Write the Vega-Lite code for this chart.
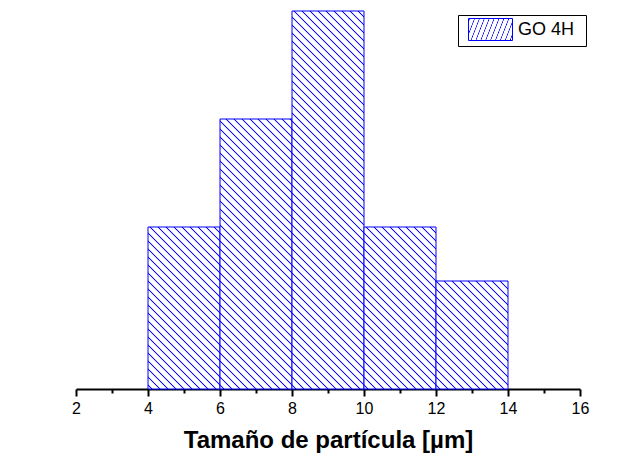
{
  "$schema": "https://vega.github.io/schema/vega-lite/v6.json",
  "width": 504,
  "height": 378,
  "autosize": {"type": "none"},
  "padding": {"left": 76, "top": 11, "right": 38, "bottom": 81},
  "background": "white",
  "config": {"view": {"stroke": null}, "font": "Liberation Sans"},
  "data": {"values": [
    {"start": 4, "end": 6, "count": 3, "serie": "GO 4H"},
    {"start": 6, "end": 8, "count": 5, "serie": "GO 4H"},
    {"start": 8, "end": 10, "count": 7, "serie": "GO 4H"},
    {"start": 10, "end": 12, "count": 3, "serie": "GO 4H"},
    {"start": 12, "end": 14, "count": 2, "serie": "GO 4H"}
  ]},
  "mark": {"type": "bar", "strokeWidth": 1, "fillOpacity": 1},
  "encoding": {
    "x": {"field": "start", "type": "quantitative",
      "scale": {"domain": [2, 16], "nice": false, "zero": false},
      "axis": {"values": [2,3,4,5,6,7,8,9,10,11,12,13,14,15,16],
        "labelExpr": "datum.value % 2 === 0 ? datum.label : ''",
        "labelOverlap": false, "labelFlush": false,
        "grid": false,
        "domainColor": "black", "domainWidth": 2,
        "tickColor": "black", "tickWidth": 2,
        "tickSize": {"condition": {"test": "datum.value % 2 === 1", "value": 4}, "value": 7},
        "labelFont": "Liberation Sans", "labelFontSize": 16, "labelColor": "black", "labelPadding": 4,
        "title": "Tamaño de partícula [µm]",
        "titleFont": "Liberation Sans", "titleFontSize": 24, "titleFontWeight": "bold", "titleColor": "black", "titlePadding": 12}},
    "x2": {"field": "end"},
    "y": {"field": "count", "type": "quantitative", "scale": {"domain": [0, 7], "nice": false}, "axis": null},
    "y2": {"datum": 0},
    "stroke": {"field": "serie", "type": "nominal", "scale": {"range": ["#0000ff"]},
      "legend": {"title": "\u00a0", "titleOrient": "right", "titlePadding": 9, "titleFontSize": 10, "titleColor": "white",
        "orient": "none", "legendX": 382, "legendY": 4,
        "symbolType": "M-2,-1H2V1H-2Z", "symbolSize": 484, "symbolStrokeWidth": 1, "symbolOffset": 18,
        "labelFont": "Liberation Sans", "labelFontSize": 18, "labelColor": "black", "labelOffset": 16,
        "padding": 3, "strokeColor": "black", "fillColor": "white", "cornerRadius": 0,
        "encode": {"symbols": {"update": {"stroke": {"value": "#ff0000"}, "strokeWidth": {"value": 1},
          "fill": {"value": {"gradient": "linear", "x1": 0, "y1": 1, "x2": 10.3636, "y2": -4.1818, "stops": [{"offset":0.0061,"color":"#fff"},{"offset":0.0088,"color":"#00f"},{"offset":0.0114,"color":"#fff"},{"offset":0.0237,"color":"#fff"},{"offset":0.0263,"color":"#00f"},{"offset":0.0289,"color":"#fff"},{"offset":0.0412,"color":"#fff"},{"offset":0.0439,"color":"#00f"},{"offset":0.0465,"color":"#fff"},{"offset":0.0588,"color":"#fff"},{"offset":0.0614,"color":"#00f"},{"offset":0.064,"color":"#fff"},{"offset":0.0763,"color":"#fff"},{"offset":0.0789,"color":"#00f"},{"offset":0.0816,"color":"#fff"},{"offset":0.0939,"color":"#fff"},{"offset":0.0965,"color":"#00f"},{"offset":0.0991,"color":"#fff"},{"offset":0.1114,"color":"#fff"},{"offset":0.114,"color":"#00f"},{"offset":0.1167,"color":"#fff"},{"offset":0.1289,"color":"#fff"},{"offset":0.1316,"color":"#00f"},{"offset":0.1342,"color":"#fff"},{"offset":0.1465,"color":"#fff"},{"offset":0.1491,"color":"#00f"},{"offset":0.1518,"color":"#fff"},{"offset":0.164,"color":"#fff"},{"offset":0.1667,"color":"#00f"},{"offset":0.1693,"color":"#fff"}]}}}}}
      }},
    "fill": {
      "condition": [
        {"test": "datum.count === 7", "value": {"gradient": "linear", "x1": 0, "y1": 1, "x2": 0.2217, "y2": -0.1641, "stops": [{"offset":0.0061,"color":"#fff"},{"offset":0.0088,"color":"#00f"},{"offset":0.0114,"color":"#fff"},{"offset":0.0237,"color":"#fff"},{"offset":0.0263,"color":"#00f"},{"offset":0.0289,"color":"#fff"},{"offset":0.0412,"color":"#fff"},{"offset":0.0439,"color":"#00f"},{"offset":0.0465,"color":"#fff"},{"offset":0.0588,"color":"#fff"},{"offset":0.0614,"color":"#00f"},{"offset":0.064,"color":"#fff"},{"offset":0.0763,"color":"#fff"},{"offset":0.0789,"color":"#00f"},{"offset":0.0816,"color":"#fff"},{"offset":0.0939,"color":"#fff"},{"offset":0.0965,"color":"#00f"},{"offset":0.0991,"color":"#fff"},{"offset":0.1114,"color":"#fff"},{"offset":0.114,"color":"#00f"},{"offset":0.1167,"color":"#fff"},{"offset":0.1289,"color":"#fff"},{"offset":0.1316,"color":"#00f"},{"offset":0.1342,"color":"#fff"},{"offset":0.1465,"color":"#fff"},{"offset":0.1491,"color":"#00f"},{"offset":0.1518,"color":"#fff"},{"offset":0.164,"color":"#fff"},{"offset":0.1667,"color":"#00f"},{"offset":0.1693,"color":"#fff"},{"offset":0.1816,"color":"#fff"},{"offset":0.1842,"color":"#00f"},{"offset":0.1868,"color":"#fff"},{"offset":0.1991,"color":"#fff"},{"offset":0.2018,"color":"#00f"},{"offset":0.2044,"color":"#fff"},{"offset":0.2167,"color":"#fff"},{"offset":0.2193,"color":"#00f"},{"offset":0.2219,"color":"#fff"},{"offset":0.2342,"color":"#fff"},{"offset":0.2368,"color":"#00f"},{"offset":0.2395,"color":"#fff"},{"offset":0.2518,"color":"#fff"},{"offset":0.2544,"color":"#00f"},{"offset":0.257,"color":"#fff"},{"offset":0.2693,"color":"#fff"},{"offset":0.2719,"color":"#00f"},{"offset":0.2746,"color":"#fff"},{"offset":0.2868,"color":"#fff"},{"offset":0.2895,"color":"#00f"},{"offset":0.2921,"color":"#fff"},{"offset":0.3044,"color":"#fff"},{"offset":0.307,"color":"#00f"},{"offset":0.3096,"color":"#fff"},{"offset":0.3219,"color":"#fff"},{"offset":0.3246,"color":"#00f"},{"offset":0.3272,"color":"#fff"},{"offset":0.3395,"color":"#fff"},{"offset":0.3421,"color":"#00f"},{"offset":0.3447,"color":"#fff"},{"offset":0.357,"color":"#fff"},{"offset":0.3596,"color":"#00f"},{"offset":0.3623,"color":"#fff"},{"offset":0.3746,"color":"#fff"},{"offset":0.3772,"color":"#00f"},{"offset":0.3798,"color":"#fff"},{"offset":0.3921,"color":"#fff"},{"offset":0.3947,"color":"#00f"},{"offset":0.3974,"color":"#fff"},{"offset":0.4096,"color":"#fff"},{"offset":0.4123,"color":"#00f"},{"offset":0.4149,"color":"#fff"},{"offset":0.4272,"color":"#fff"},{"offset":0.4298,"color":"#00f"},{"offset":0.4325,"color":"#fff"},{"offset":0.4447,"color":"#fff"},{"offset":0.4474,"color":"#00f"},{"offset":0.45,"color":"#fff"},{"offset":0.4623,"color":"#fff"},{"offset":0.4649,"color":"#00f"},{"offset":0.4675,"color":"#fff"},{"offset":0.4798,"color":"#fff"},{"offset":0.4825,"color":"#00f"},{"offset":0.4851,"color":"#fff"},{"offset":0.4974,"color":"#fff"},{"offset":0.5,"color":"#00f"},{"offset":0.5026,"color":"#fff"},{"offset":0.5149,"color":"#fff"},{"offset":0.5175,"color":"#00f"},{"offset":0.5202,"color":"#fff"},{"offset":0.5325,"color":"#fff"},{"offset":0.5351,"color":"#00f"},{"offset":0.5377,"color":"#fff"},{"offset":0.55,"color":"#fff"},{"offset":0.5526,"color":"#00f"},{"offset":0.5553,"color":"#fff"},{"offset":0.5675,"color":"#fff"},{"offset":0.5702,"color":"#00f"},{"offset":0.5728,"color":"#fff"},{"offset":0.5851,"color":"#fff"},{"offset":0.5877,"color":"#00f"},{"offset":0.5904,"color":"#fff"},{"offset":0.6026,"color":"#fff"},{"offset":0.6053,"color":"#00f"},{"offset":0.6079,"color":"#fff"},{"offset":0.6202,"color":"#fff"},{"offset":0.6228,"color":"#00f"},{"offset":0.6254,"color":"#fff"},{"offset":0.6377,"color":"#fff"},{"offset":0.6404,"color":"#00f"},{"offset":0.643,"color":"#fff"},{"offset":0.6553,"color":"#fff"},{"offset":0.6579,"color":"#00f"},{"offset":0.6605,"color":"#fff"},{"offset":0.6728,"color":"#fff"},{"offset":0.6754,"color":"#00f"},{"offset":0.6781,"color":"#fff"},{"offset":0.6904,"color":"#fff"},{"offset":0.693,"color":"#00f"},{"offset":0.6956,"color":"#fff"},{"offset":0.7079,"color":"#fff"},{"offset":0.7105,"color":"#00f"},{"offset":0.7132,"color":"#fff"},{"offset":0.7254,"color":"#fff"},{"offset":0.7281,"color":"#00f"},{"offset":0.7307,"color":"#fff"},{"offset":0.743,"color":"#fff"},{"offset":0.7456,"color":"#00f"},{"offset":0.7482,"color":"#fff"},{"offset":0.7605,"color":"#fff"},{"offset":0.7632,"color":"#00f"},{"offset":0.7658,"color":"#fff"},{"offset":0.7781,"color":"#fff"},{"offset":0.7807,"color":"#00f"},{"offset":0.7833,"color":"#fff"},{"offset":0.7956,"color":"#fff"},{"offset":0.7982,"color":"#00f"},{"offset":0.8009,"color":"#fff"},{"offset":0.8132,"color":"#fff"},{"offset":0.8158,"color":"#00f"},{"offset":0.8184,"color":"#fff"},{"offset":0.8307,"color":"#fff"},{"offset":0.8333,"color":"#00f"},{"offset":0.836,"color":"#fff"},{"offset":0.8482,"color":"#fff"},{"offset":0.8509,"color":"#00f"},{"offset":0.8535,"color":"#fff"},{"offset":0.8658,"color":"#fff"},{"offset":0.8684,"color":"#00f"},{"offset":0.8711,"color":"#fff"},{"offset":0.8833,"color":"#fff"},{"offset":0.886,"color":"#00f"},{"offset":0.8886,"color":"#fff"},{"offset":0.9009,"color":"#fff"},{"offset":0.9035,"color":"#00f"},{"offset":0.9061,"color":"#fff"},{"offset":0.9184,"color":"#fff"},{"offset":0.9211,"color":"#00f"},{"offset":0.9237,"color":"#fff"},{"offset":0.936,"color":"#fff"},{"offset":0.9386,"color":"#00f"},{"offset":0.9412,"color":"#fff"},{"offset":0.9535,"color":"#fff"},{"offset":0.9561,"color":"#00f"},{"offset":0.9588,"color":"#fff"},{"offset":0.9711,"color":"#fff"},{"offset":0.9737,"color":"#00f"},{"offset":0.9763,"color":"#fff"},{"offset":0.9886,"color":"#fff"},{"offset":0.9912,"color":"#00f"},{"offset":0.9939,"color":"#fff"}]}},
        {"test": "datum.count === 5", "value": {"gradient": "linear", "x1": 0, "y1": 1, "x2": 0.4205, "y2": -0.5768, "stops": [{"offset":0.0061,"color":"#fff"},{"offset":0.0088,"color":"#00f"},{"offset":0.0114,"color":"#fff"},{"offset":0.0237,"color":"#fff"},{"offset":0.0263,"color":"#00f"},{"offset":0.0289,"color":"#fff"},{"offset":0.0412,"color":"#fff"},{"offset":0.0439,"color":"#00f"},{"offset":0.0465,"color":"#fff"},{"offset":0.0588,"color":"#fff"},{"offset":0.0614,"color":"#00f"},{"offset":0.064,"color":"#fff"},{"offset":0.0763,"color":"#fff"},{"offset":0.0789,"color":"#00f"},{"offset":0.0816,"color":"#fff"},{"offset":0.0939,"color":"#fff"},{"offset":0.0965,"color":"#00f"},{"offset":0.0991,"color":"#fff"},{"offset":0.1114,"color":"#fff"},{"offset":0.114,"color":"#00f"},{"offset":0.1167,"color":"#fff"},{"offset":0.1289,"color":"#fff"},{"offset":0.1316,"color":"#00f"},{"offset":0.1342,"color":"#fff"},{"offset":0.1465,"color":"#fff"},{"offset":0.1491,"color":"#00f"},{"offset":0.1518,"color":"#fff"},{"offset":0.164,"color":"#fff"},{"offset":0.1667,"color":"#00f"},{"offset":0.1693,"color":"#fff"},{"offset":0.1816,"color":"#fff"},{"offset":0.1842,"color":"#00f"},{"offset":0.1868,"color":"#fff"},{"offset":0.1991,"color":"#fff"},{"offset":0.2018,"color":"#00f"},{"offset":0.2044,"color":"#fff"},{"offset":0.2167,"color":"#fff"},{"offset":0.2193,"color":"#00f"},{"offset":0.2219,"color":"#fff"},{"offset":0.2342,"color":"#fff"},{"offset":0.2368,"color":"#00f"},{"offset":0.2395,"color":"#fff"},{"offset":0.2518,"color":"#fff"},{"offset":0.2544,"color":"#00f"},{"offset":0.257,"color":"#fff"},{"offset":0.2693,"color":"#fff"},{"offset":0.2719,"color":"#00f"},{"offset":0.2746,"color":"#fff"},{"offset":0.2868,"color":"#fff"},{"offset":0.2895,"color":"#00f"},{"offset":0.2921,"color":"#fff"},{"offset":0.3044,"color":"#fff"},{"offset":0.307,"color":"#00f"},{"offset":0.3096,"color":"#fff"},{"offset":0.3219,"color":"#fff"},{"offset":0.3246,"color":"#00f"},{"offset":0.3272,"color":"#fff"},{"offset":0.3395,"color":"#fff"},{"offset":0.3421,"color":"#00f"},{"offset":0.3447,"color":"#fff"},{"offset":0.357,"color":"#fff"},{"offset":0.3596,"color":"#00f"},{"offset":0.3623,"color":"#fff"},{"offset":0.3746,"color":"#fff"},{"offset":0.3772,"color":"#00f"},{"offset":0.3798,"color":"#fff"},{"offset":0.3921,"color":"#fff"},{"offset":0.3947,"color":"#00f"},{"offset":0.3974,"color":"#fff"},{"offset":0.4096,"color":"#fff"},{"offset":0.4123,"color":"#00f"},{"offset":0.4149,"color":"#fff"},{"offset":0.4272,"color":"#fff"},{"offset":0.4298,"color":"#00f"},{"offset":0.4325,"color":"#fff"},{"offset":0.4447,"color":"#fff"},{"offset":0.4474,"color":"#00f"},{"offset":0.45,"color":"#fff"},{"offset":0.4623,"color":"#fff"},{"offset":0.4649,"color":"#00f"},{"offset":0.4675,"color":"#fff"},{"offset":0.4798,"color":"#fff"},{"offset":0.4825,"color":"#00f"},{"offset":0.4851,"color":"#fff"},{"offset":0.4974,"color":"#fff"},{"offset":0.5,"color":"#00f"},{"offset":0.5026,"color":"#fff"},{"offset":0.5149,"color":"#fff"},{"offset":0.5175,"color":"#00f"},{"offset":0.5202,"color":"#fff"},{"offset":0.5325,"color":"#fff"},{"offset":0.5351,"color":"#00f"},{"offset":0.5377,"color":"#fff"},{"offset":0.55,"color":"#fff"},{"offset":0.5526,"color":"#00f"},{"offset":0.5553,"color":"#fff"},{"offset":0.5675,"color":"#fff"},{"offset":0.5702,"color":"#00f"},{"offset":0.5728,"color":"#fff"},{"offset":0.5851,"color":"#fff"},{"offset":0.5877,"color":"#00f"},{"offset":0.5904,"color":"#fff"},{"offset":0.6026,"color":"#fff"},{"offset":0.6053,"color":"#00f"},{"offset":0.6079,"color":"#fff"},{"offset":0.6202,"color":"#fff"},{"offset":0.6228,"color":"#00f"},{"offset":0.6254,"color":"#fff"},{"offset":0.6377,"color":"#fff"},{"offset":0.6404,"color":"#00f"},{"offset":0.643,"color":"#fff"},{"offset":0.6553,"color":"#fff"},{"offset":0.6579,"color":"#00f"},{"offset":0.6605,"color":"#fff"},{"offset":0.6728,"color":"#fff"},{"offset":0.6754,"color":"#00f"},{"offset":0.6781,"color":"#fff"},{"offset":0.6904,"color":"#fff"},{"offset":0.693,"color":"#00f"},{"offset":0.6956,"color":"#fff"},{"offset":0.7079,"color":"#fff"},{"offset":0.7105,"color":"#00f"},{"offset":0.7132,"color":"#fff"},{"offset":0.7254,"color":"#fff"},{"offset":0.7281,"color":"#00f"},{"offset":0.7307,"color":"#fff"},{"offset":0.743,"color":"#fff"},{"offset":0.7456,"color":"#00f"},{"offset":0.7482,"color":"#fff"},{"offset":0.7605,"color":"#fff"},{"offset":0.7632,"color":"#00f"},{"offset":0.7658,"color":"#fff"},{"offset":0.7781,"color":"#fff"},{"offset":0.7807,"color":"#00f"},{"offset":0.7833,"color":"#fff"},{"offset":0.7956,"color":"#fff"},{"offset":0.7982,"color":"#00f"},{"offset":0.8009,"color":"#fff"}]}},
        {"test": "datum.count === 2", "value": {"gradient": "linear", "x1": 0, "y1": 1, "x2": 1.9487, "y2": -1.9231, "stops": [{"offset":0.0061,"color":"#fff"},{"offset":0.0088,"color":"#00f"},{"offset":0.0114,"color":"#fff"},{"offset":0.0237,"color":"#fff"},{"offset":0.0263,"color":"#00f"},{"offset":0.0289,"color":"#fff"},{"offset":0.0412,"color":"#fff"},{"offset":0.0439,"color":"#00f"},{"offset":0.0465,"color":"#fff"},{"offset":0.0588,"color":"#fff"},{"offset":0.0614,"color":"#00f"},{"offset":0.064,"color":"#fff"},{"offset":0.0763,"color":"#fff"},{"offset":0.0789,"color":"#00f"},{"offset":0.0816,"color":"#fff"},{"offset":0.0939,"color":"#fff"},{"offset":0.0965,"color":"#00f"},{"offset":0.0991,"color":"#fff"},{"offset":0.1114,"color":"#fff"},{"offset":0.114,"color":"#00f"},{"offset":0.1167,"color":"#fff"},{"offset":0.1289,"color":"#fff"},{"offset":0.1316,"color":"#00f"},{"offset":0.1342,"color":"#fff"},{"offset":0.1465,"color":"#fff"},{"offset":0.1491,"color":"#00f"},{"offset":0.1518,"color":"#fff"},{"offset":0.164,"color":"#fff"},{"offset":0.1667,"color":"#00f"},{"offset":0.1693,"color":"#fff"},{"offset":0.1816,"color":"#fff"},{"offset":0.1842,"color":"#00f"},{"offset":0.1868,"color":"#fff"},{"offset":0.1991,"color":"#fff"},{"offset":0.2018,"color":"#00f"},{"offset":0.2044,"color":"#fff"},{"offset":0.2167,"color":"#fff"},{"offset":0.2193,"color":"#00f"},{"offset":0.2219,"color":"#fff"},{"offset":0.2342,"color":"#fff"},{"offset":0.2368,"color":"#00f"},{"offset":0.2395,"color":"#fff"},{"offset":0.2518,"color":"#fff"},{"offset":0.2544,"color":"#00f"},{"offset":0.257,"color":"#fff"},{"offset":0.2693,"color":"#fff"},{"offset":0.2719,"color":"#00f"},{"offset":0.2746,"color":"#fff"},{"offset":0.2868,"color":"#fff"},{"offset":0.2895,"color":"#00f"},{"offset":0.2921,"color":"#fff"},{"offset":0.3044,"color":"#fff"},{"offset":0.307,"color":"#00f"},{"offset":0.3096,"color":"#fff"},{"offset":0.3219,"color":"#fff"},{"offset":0.3246,"color":"#00f"},{"offset":0.3272,"color":"#fff"},{"offset":0.3395,"color":"#fff"},{"offset":0.3421,"color":"#00f"},{"offset":0.3447,"color":"#fff"},{"offset":0.357,"color":"#fff"},{"offset":0.3596,"color":"#00f"},{"offset":0.3623,"color":"#fff"},{"offset":0.3746,"color":"#fff"},{"offset":0.3772,"color":"#00f"},{"offset":0.3798,"color":"#fff"},{"offset":0.3921,"color":"#fff"},{"offset":0.3947,"color":"#00f"},{"offset":0.3974,"color":"#fff"}]}}
      ],
      "value": {"gradient": "linear", "x1": 0, "y1": 1, "x2": 1.0447, "y2": -1.3505, "stops": [{"offset":0.0061,"color":"#fff"},{"offset":0.0088,"color":"#00f"},{"offset":0.0114,"color":"#fff"},{"offset":0.0237,"color":"#fff"},{"offset":0.0263,"color":"#00f"},{"offset":0.0289,"color":"#fff"},{"offset":0.0412,"color":"#fff"},{"offset":0.0439,"color":"#00f"},{"offset":0.0465,"color":"#fff"},{"offset":0.0588,"color":"#fff"},{"offset":0.0614,"color":"#00f"},{"offset":0.064,"color":"#fff"},{"offset":0.0763,"color":"#fff"},{"offset":0.0789,"color":"#00f"},{"offset":0.0816,"color":"#fff"},{"offset":0.0939,"color":"#fff"},{"offset":0.0965,"color":"#00f"},{"offset":0.0991,"color":"#fff"},{"offset":0.1114,"color":"#fff"},{"offset":0.114,"color":"#00f"},{"offset":0.1167,"color":"#fff"},{"offset":0.1289,"color":"#fff"},{"offset":0.1316,"color":"#00f"},{"offset":0.1342,"color":"#fff"},{"offset":0.1465,"color":"#fff"},{"offset":0.1491,"color":"#00f"},{"offset":0.1518,"color":"#fff"},{"offset":0.164,"color":"#fff"},{"offset":0.1667,"color":"#00f"},{"offset":0.1693,"color":"#fff"},{"offset":0.1816,"color":"#fff"},{"offset":0.1842,"color":"#00f"},{"offset":0.1868,"color":"#fff"},{"offset":0.1991,"color":"#fff"},{"offset":0.2018,"color":"#00f"},{"offset":0.2044,"color":"#fff"},{"offset":0.2167,"color":"#fff"},{"offset":0.2193,"color":"#00f"},{"offset":0.2219,"color":"#fff"},{"offset":0.2342,"color":"#fff"},{"offset":0.2368,"color":"#00f"},{"offset":0.2395,"color":"#fff"},{"offset":0.2518,"color":"#fff"},{"offset":0.2544,"color":"#00f"},{"offset":0.257,"color":"#fff"},{"offset":0.2693,"color":"#fff"},{"offset":0.2719,"color":"#00f"},{"offset":0.2746,"color":"#fff"},{"offset":0.2868,"color":"#fff"},{"offset":0.2895,"color":"#00f"},{"offset":0.2921,"color":"#fff"},{"offset":0.3044,"color":"#fff"},{"offset":0.307,"color":"#00f"},{"offset":0.3096,"color":"#fff"},{"offset":0.3219,"color":"#fff"},{"offset":0.3246,"color":"#00f"},{"offset":0.3272,"color":"#fff"},{"offset":0.3395,"color":"#fff"},{"offset":0.3421,"color":"#00f"},{"offset":0.3447,"color":"#fff"},{"offset":0.357,"color":"#fff"},{"offset":0.3596,"color":"#00f"},{"offset":0.3623,"color":"#fff"},{"offset":0.3746,"color":"#fff"},{"offset":0.3772,"color":"#00f"},{"offset":0.3798,"color":"#fff"},{"offset":0.3921,"color":"#fff"},{"offset":0.3947,"color":"#00f"},{"offset":0.3974,"color":"#fff"},{"offset":0.4096,"color":"#fff"},{"offset":0.4123,"color":"#00f"},{"offset":0.4149,"color":"#fff"},{"offset":0.4272,"color":"#fff"},{"offset":0.4298,"color":"#00f"},{"offset":0.4325,"color":"#fff"},{"offset":0.4447,"color":"#fff"},{"offset":0.4474,"color":"#00f"},{"offset":0.45,"color":"#fff"},{"offset":0.4623,"color":"#fff"},{"offset":0.4649,"color":"#00f"},{"offset":0.4675,"color":"#fff"},{"offset":0.4798,"color":"#fff"},{"offset":0.4825,"color":"#00f"},{"offset":0.4851,"color":"#fff"},{"offset":0.4974,"color":"#fff"},{"offset":0.5,"color":"#00f"},{"offset":0.5026,"color":"#fff"},{"offset":0.5149,"color":"#fff"},{"offset":0.5175,"color":"#00f"},{"offset":0.5202,"color":"#fff"}]}
    }
  }
}
